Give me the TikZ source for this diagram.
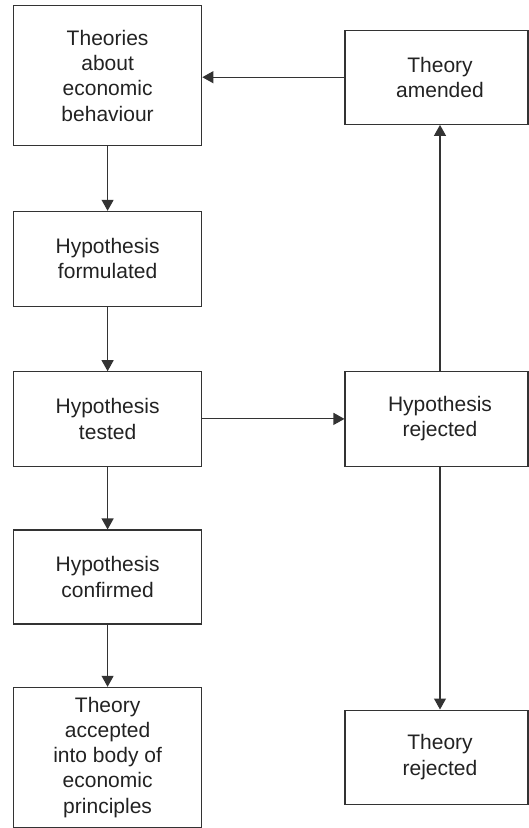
\documentclass[tikz,border=0pt]{standalone}
\usepackage{fontspec}
\setmainfont{Liberation Sans}
\usetikzlibrary{arrows.meta,calc}
\definecolor{ln}{HTML}{333333}
\definecolor{tx}{HTML}{222222}
\begin{document}
\begin{tikzpicture}[x=1pt,y=-1pt,
  box/.style={draw=ln,line width=1.1pt,rectangle,inner sep=0pt,align=center,
    text=tx,font=\fontsize{21}{25.3}\selectfont},
  lbox/.style={box,minimum width=188.4pt},
  rbox/.style={box,minimum width=183pt},
  rtext/.style={align=center,text=tx,font=\fontsize{21}{25.3}\selectfont,xshift=3.5pt},
  conn/.style={draw=ln,line width=1.1pt,-{Triangle[length=11pt,width=12pt]}}]
\useasboundingbox (0,0) rectangle (529,828);
\node[lbox,minimum height=140pt] (b1) at (107.6,75.7) {Theories\\about\\economic\\behaviour};
\node[lbox,minimum height=94.7pt] (b2) at (107.6,258.7) {Hypothesis\\formulated};
\node[lbox,minimum height=94.3pt] (b3) at (107.6,418.9) {Hypothesis\\tested};
\node[lbox,minimum height=94pt] (b4) at (107.6,577) {Hypothesis\\confirmed};
\node[lbox,minimum height=139.7pt] (b5) at (107.6,757.2) {Theory\\accepted\\into body of\\economic\\principles};
\node[rbox,minimum height=94.3pt,label={[rtext]center:Theory\\amended}] (r1) at (436.5,77.2) {};
\node[rbox,minimum height=94.3pt,label={[rtext]center:Hypothesis\\rejected}] (r2) at (436.5,418.9) {};
\node[rbox,minimum height=94.3pt,label={[rtext]center:Theory\\rejected}] (r3) at (436.5,757.2) {};
\coordinate (rx) at (440,0);
\draw[conn] (b1) -- (b2);
\draw[conn] (b2) -- (b3);
\draw[conn] (b3) -- (b4);
\draw[conn] (b4) -- (b5);
\draw[conn] (b3) -- (r2);
\draw[conn] (r1.west) -- (r1.west -| b1.east);
\draw[conn] (r2.north -| rx) -- (r1.south -| rx);
\draw[conn] (r2.south -| rx) -- (r3.north -| rx);
\end{tikzpicture}
\end{document}
